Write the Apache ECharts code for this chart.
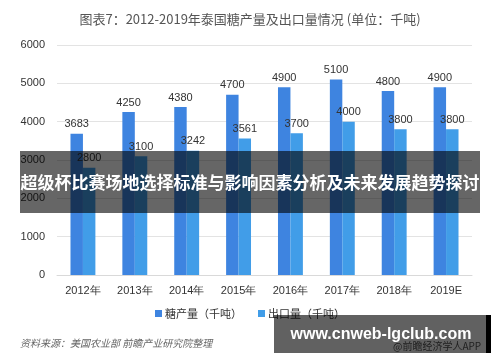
<!DOCTYPE html>
<html><head><meta charset="utf-8">
<script src="https://cdn.jsdelivr.net/npm/echarts@6/dist/echarts.min.js"></script>
<style>html,body{margin:0;padding:0;background:#fff}#c{width:500px;height:362px}</style>
</head><body><div id="c"></div>
<script>
const categories = ['2012年','2013年','2014年','2015年','2016年','2017年','2018年','2019E'];
const sugarProduction = [3683,4250,4380,4700,4900,5100,4800,4900];
const sugarExport = [2800,3100,3242,3561,3700,4000,3800,3800];
const yTicks = [0,1000,2000,3000,4000,5000,6000];
const seriesNames = ['糖产量（千吨）','出口量（千吨）'];

const chart = echarts.init(document.getElementById('c'));
const labelStyle = {show:true, position:'top', color:'#333', fontSize:11, fontFamily:'Liberation Sans, sans-serif', distance:4};
chart.setOption({
  animation:false,
  title:{text:'图表7：2012-2019年泰国糖产量及出口量情况 (单位：千吨)', left:'center', top:8,
    textStyle:{fontSize:13, fontWeight:'normal', color:'#555', fontFamily:'Noto Sans CJK SC, sans-serif'}},
  grid:{left:57, right:28, top:45, bottom:87},
  legend:{bottom:38, left:'center', itemWidth:7, itemHeight:7, itemGap:16, icon:'rect',
    textStyle:{fontSize:11, color:'#333', padding:[0,0,0,-2], fontFamily:'Noto Sans CJK SC, sans-serif'}},
  xAxis:{type:'category', data:categories,
    axisLine:{lineStyle:{color:'#d9d9d9'}}, axisTick:{show:false},
    axisLabel:{color:'#333', fontSize:11, margin:10, fontFamily:'Liberation Sans, sans-serif'}},
  yAxis:{type:'value', min:yTicks[0], max:yTicks[yTicks.length-1], interval:1000,
    axisLine:{show:false}, axisTick:{show:false},
    splitLine:{lineStyle:{color:'#e3e3e3'}},
    axisLabel:{color:'#333', fontSize:11, margin:12, fontFamily:'Liberation Sans, sans-serif',
      formatter:function(v){return String(v);}}},
  series:[
    {name:seriesNames[0], type:'bar', data:sugarProduction, barWidth:'24%', barGap:'0%',
      itemStyle:{color:'#3E84E0'}, label:labelStyle},
    {name:seriesNames[1], type:'bar', data:sugarExport, barWidth:'24%',
      itemStyle:{color:'#419DE8'}, label:labelStyle}
  ],
  graphic:[
    {type:'text', left:20, top:338, z:100, style:{text:'资料来源：美国农业部 前瞻产业研究院整理', fill:'#666',
      font:'italic 10px "Noto Sans CJK SC", sans-serif'}},
    {type:'text', left:393, top:341, z:100, style:{text:'@前瞻经济学人APP', fill:'#555',
      font:'10px "Noto Sans CJK SC", sans-serif'}},
    {type:'rect', z:100, shape:{x:20, y:151, width:460, height:62}, style:{fill:'rgba(0,0,0,0.6)'}},
    {type:'text', z:101, x:250, y:183, style:{text:'超级杯比赛场地选择标准与影响因素分析及未来发展趋势探讨', fill:'#fff',
      align:'center', verticalAlign:'middle', font:'bold 17px "Noto Sans CJK SC", sans-serif'}},
    {type:'rect', z:102, shape:{x:274, y:315, width:213, height:38}, style:{fill:'rgba(0,0,0,0.62)'}},
    {type:'rect', z:102, shape:{x:486, y:315, width:5, height:38}, style:{fill:'#000'}},
    {type:'text', z:103, x:381, y:335, style:{text:'www.cnweb-lgclub.com', fill:'#fff',
      align:'center', verticalAlign:'middle', font:'bold 16px "Liberation Sans", sans-serif'}}
  ]
});
</script></body></html>
